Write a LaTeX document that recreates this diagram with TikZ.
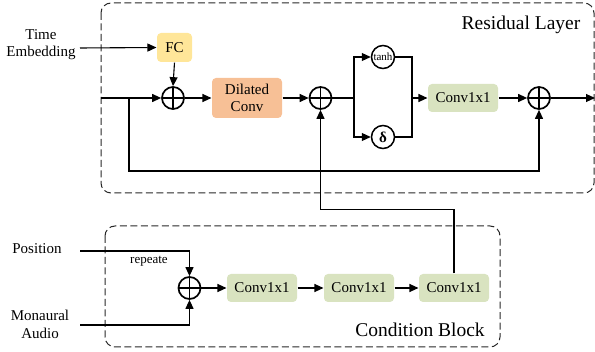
\documentclass[tikz,border=0pt]{standalone}
\usepackage{fontspec}
\setmainfont{Liberation Serif}
\usetikzlibrary{arrows.meta}
\definecolor{fcyel}{RGB}{255,230,153}
\definecolor{dilorange}{RGB}{247,192,150}
\definecolor{convgreen}{RGB}{217,227,192}
\definecolor{dashgray}{RGB}{40,40,40}
\begin{document}
\begin{tikzpicture}[x=1pt,y=-1pt,
  >={Triangle[length=9pt,width=8pt]},
  line width=1.1pt,
  box/.style={rounded corners=4pt, inner sep=0pt, align=center, font=\fontsize{15}{17}\selectfont},
  fcbox/.style={box, fill=fcyel, minimum width=35pt, minimum height=29pt},
  dilbox/.style={box, fill=dilorange, minimum width=70pt, minimum height=40pt},
  convbox/.style={box, fill=convgreen, minimum width=70pt, minimum height=28pt},
  plusnode/.style={circle, draw, line width=1.7pt, minimum size=22pt, inner sep=0pt,
    path picture={\draw[line width=1.7pt] (path picture bounding box.north) -- (path picture bounding box.south)
      (path picture bounding box.west) -- (path picture bounding box.east);}},
  circ/.style={circle, draw, line width=1.5pt, minimum size=23pt, inner sep=0pt, font=\fontsize{15}{15}\selectfont},
  lbl/.style={align=center, inner sep=0pt, font=\fontsize{15}{17}\selectfont},
  dashbox/.style={draw=dashgray, line width=1pt, dash pattern=on 7pt off 3.5pt, rounded corners=10pt}
]
\useasboundingbox (0,0) rectangle (595,352);

% dashed frames
\draw[dashbox] (101,3) rectangle (594,193);
\draw[dashbox] (105,226) rectangle (500,347);

% nodes
\node[fcbox] (fc) at (174.5,47.5) {FC};
\node[dilbox] (dil) at (247,98) {Dilated\\Conv};
\node[convbox] (cr) at (463,98) {Conv1x1};
\node[convbox] (c1) at (262,288) {Conv1x1};
\node[convbox] (c2) at (359,288) {Conv1x1};
\node[convbox] (c3) at (454,288) {Conv1x1};
\node[plusnode] (p1) at (173,98) {};
\node[plusnode] (p2) at (320.5,98) {};
\node[plusnode] (p3) at (539,98) {};
\node[plusnode] (p4) at (189.5,288) {};
\node[circ] (tanh) at (383,57) {\fontsize{11}{11}\selectfont tanh};
\node[circ] (sig) at (383,137) {\textbf{δ}};

% labels
\node[lbl] (tet) at (41,44.5) {Time\\Embedding};
\node[lbl] (post) at (37,248.5) {Position};
\node[lbl, font=\fontsize{15}{18}\selectfont] (mont) at (40,324) {Monaural\\Audio};
\node[lbl, font=\fontsize{13}{15}\selectfont] (rep) at (149,261) {repeate};
\node[lbl, font=\fontsize{19.5}{22}\selectfont] (rl) at (521,25) {Residual Layer};
\node[lbl, font=\fontsize{19.5}{22}\selectfont] (cb) at (420,330) {Condition Block};

% coordinates
\coordinate (in) at (101,98);
\coordinate (br) at (129,98);
\coordinate (bb) at (129,171);
\coordinate (sp) at (354,98);
\coordinate (jn) at (412,98);
\coordinate (out) at (595,98);
\coordinate (te) at (80,48);
\coordinate (pos) at (80,251);
\coordinate (mon) at (80,325);

% residual layer connectors
\draw[->] (in) -- (p1.west);
\draw[->] (te) -- (fc.west);
\draw[->] (fc.south) -- (p1.north);
\draw[->] (p1.east) -- (dil.west);
\draw[->] (dil.east) -- (p2.west);
\draw (p2.east) -- (sp);
\draw[->] (sp) |- (tanh.west);
\draw[->] (sp) |- (sig.west);
\draw (tanh.east) -| (jn);
\draw (sig.east) -| (jn);
\draw[->] (jn) -- (cr.west);
\draw[->] (cr.east) -- (p3.west);
\draw[->] (p3.east) -- (out);
\draw[->] (br) -- (bb) -| (p3.south);

% condition block connectors
\draw[->] (pos) -| (p4.north);
\draw[->] (mon) -| (p4.south);
\draw[->] (p4.east) -- (c1.west);
\draw[->] (c1.east) -- (c2.west);
\draw[->] (c2.east) -- (c3.west);
\draw[->] (c3.north) -- ++(0,-64) -| (p2.south);
\end{tikzpicture}
\end{document}
